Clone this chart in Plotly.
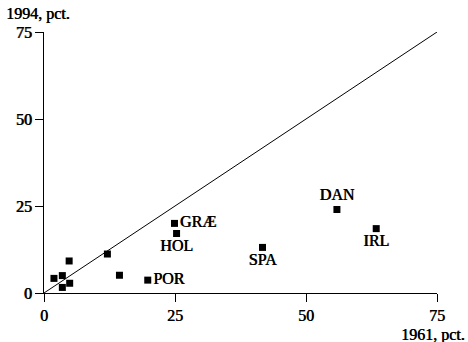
import plotly.graph_objects as go

x_1961 = [1.9, 3.5, 4.8, 3.5, 4.9, 12.1, 14.4, 19.8, 24.9, 25.3, 41.7, 55.9, 63.4]
y_1994 = [4.2, 5.0, 9.2, 1.6, 2.8, 11.2, 5.1, 3.7, 20.0, 17.1, 13.1, 24.0, 18.5]
labels = ["", "", "", "", "", "", "", "POR", "GRÆ", "HOL", "SPA", "DAN", "IRL"]
positions = ["middle right"] * 7 + ["middle right", "middle right", "bottom center",
                                   "bottom center", "top center", "bottom center"]
tick_vals = [0, 25, 50, 75]
diag = [0, 75]

FONT = "Liberation Serif"
SHADOW = "0.6px 0px 0px black"

def font(size=16):
    return dict(family=FONT, size=size, color="black", shadow=SHADOW)

fig = go.Figure()
fig.add_trace(go.Scatter(x=diag, y=diag, mode="lines",
                         line=dict(color="black", width=1), hoverinfo="skip"))
fig.add_trace(go.Scatter(x=x_1961, y=y_1994, mode="markers+text",
                         marker=dict(symbol="square", size=7, color="black"),
                         text=labels, textposition=positions,
                         textfont=font()))

axis_common = dict(range=[0, 75], tickvals=tick_vals, showgrid=False, zeroline=False,
                   showline=True, linecolor="black", linewidth=1,
                   ticks="outside", ticklen=8, tickwidth=1, tickcolor="black",
                   tickfont=font())
fig.update_xaxes(**axis_common)
fig.update_yaxes(**axis_common)

fig.add_annotation(text="1994, pct.", xref="paper", yref="paper", x=0, y=1.0,
                   xanchor="left", yanchor="bottom", xshift=-40, yshift=7, showarrow=False,
                   font=font())
fig.add_annotation(text="1961, pct.", xref="paper", yref="paper", x=1, y=0,
                   xanchor="right", yanchor="top", xshift=30, yshift=-31, showarrow=False,
                   font=font())

fig.update_layout(width=468, height=342, showlegend=False,
                  margin=dict(l=44, r=31, t=32, b=49),
                  plot_bgcolor="white", paper_bgcolor="white")
fig.write_html("out.html", config={"displayModeBar": False},
               post_script="document.body.style.margin='0';")
